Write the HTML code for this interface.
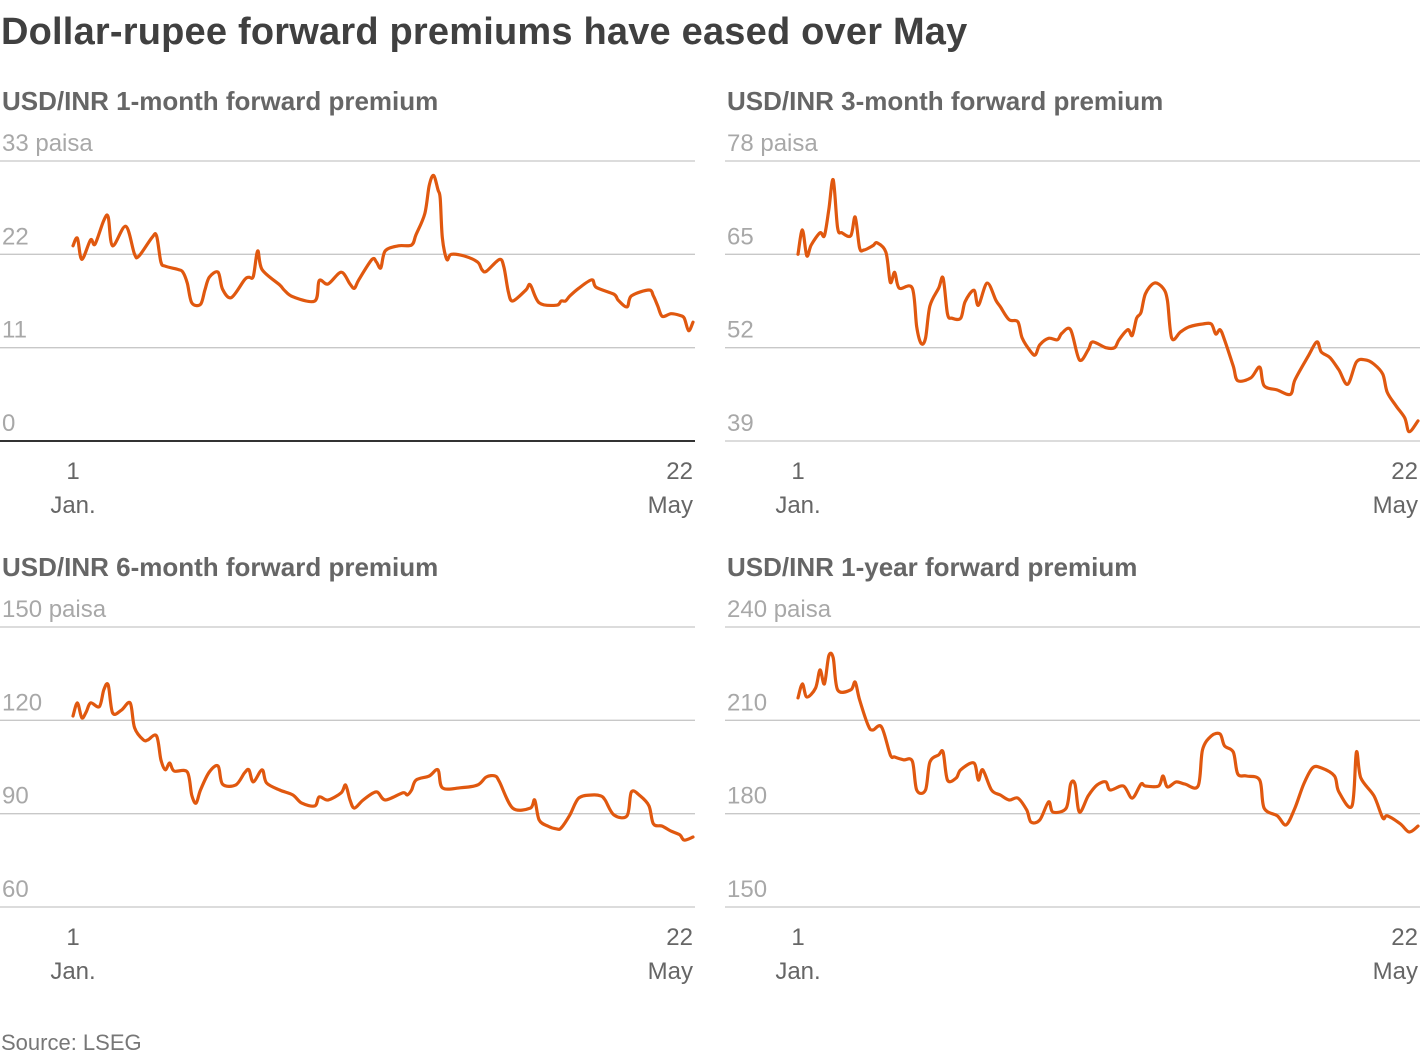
<!DOCTYPE html>
<html><head><meta charset="utf-8">
<style>
body{margin:0;background:#fff;width:1420px;height:1056px;overflow:hidden;font-family:"Liberation Sans","DejaVu Sans",sans-serif;}
svg text{font-family:"Liberation Sans","DejaVu Sans",sans-serif;}
</style></head>
<body>
<svg id="root" width="1420" height="1056" viewBox="0 0 1420 1056">
<text x="1" y="44" font-size="38" font-weight="bold" fill="#404040" letter-spacing="0.2">Dollar-rupee forward premiums have eased over May</text>
<text x="1" y="1050" font-size="22" fill="#777">Source: LSEG</text>
</svg>
<script>
// Chart 1: 1-month (paisa)
const days1=[0,1,2,4,5,7,8,9,12,14,15,18,19,20,21,24,25,26,27,29,30,31,33,34,36,39,40,41,42,43,47,48,50,55,56,58,61,63,64,65,68,69,70,71,74,77,78,80,81,82,83,83.5,84,85,86,89,92,93,94,97,98,99,100,103,104,106,110,111,112,113,115,118,119,123,124,126,127,131,132,133,134,136,138,139,140,141];
const vals1=[23.0,23.9,21.4,23.7,23.2,26.0,26.4,23.0,25.3,22.0,21.8,24.0,24.2,21.1,20.6,20.2,19.9,18.6,16.3,16.1,17.8,19.3,19.9,17.9,16.9,19.0,19.3,19.4,22.4,20.2,18.4,17.8,17.0,16.5,18.9,18.5,19.9,18.5,18.0,19.0,21.4,21.1,20.4,22.4,23.0,23.1,24.3,26.8,30.1,31.3,29.6,28.6,23.9,21.4,22.0,21.8,21.1,20.2,20.0,21.4,20.5,17.6,16.5,17.8,18.4,16.3,16.0,16.5,16.5,17.1,18.0,19.0,18.1,17.3,16.6,15.8,17.1,17.8,17.1,15.9,14.7,15.0,14.8,14.5,13.0,14.0];
// Chart 2: 3-month
const days2=[0,1,2,3,5,6,7,8,9,10,12,13,14,15,17,18,20,21,22,23,26,27,28,29,30,32,33,34,35,37,38,40,41,43,45,46,48,50,51,53,54,55,57,59,60,62,64,66,67,70,72,73,75,76,77,78,79,81,83,84,85,87,89,92,94,95,96,97,99,100,103,105,106,109,112,113,116,118,119,121,123,125,127,129,131,133,134,136,138,139,141];
const vals2=[65.0,68.4,64.8,66.3,68.0,67.6,71.2,75.4,68.7,68.0,67.6,70.2,65.9,65.6,66.2,66.6,65.3,61.1,62.5,60.3,60.3,54.9,52.6,53.3,57.8,60.3,61.7,56.7,56.1,56.1,58.4,60.0,57.9,61.0,58.6,57.7,55.9,55.6,53.3,51.4,51.0,52.4,53.3,53.1,54.0,54.5,50.3,51.7,52.8,52.0,52.0,53.1,54.5,53.7,56.1,56.9,59.5,61.0,60.3,58.6,53.3,54.2,54.9,55.3,55.3,53.9,54.5,53.1,49.4,47.4,47.8,49.3,46.7,46.1,45.5,47.5,50.8,52.8,51.4,50.6,48.9,46.9,50.0,50.3,49.7,48.3,45.8,43.9,42.2,40.3,41.8];
// Chart 3: 6-month
const days3=[0,1,2,3,4,6,7,8,9,11,13,14,16,17,19,20,21,22,23,26,27,28,29,31,33,34,37,39,40,41,43,44,47,50,52,55,56,58,61,62,63,64,66,69,71,75,76,77,78,81,83,84,88,92,94,96,97,100,104,105,106,108,110,111,113,115,118,120,121,123,126,127,129,131,132,134,136,138,139,141];
const vals3=[121.4,125.6,120.8,122.7,125.6,124.4,129.8,131.4,122.4,123.3,125.6,117.6,113.7,113.7,115.0,107.3,104.1,106.3,103.7,103.4,96.0,93.4,97.6,103.4,105.3,99.5,99.2,103.1,104.1,100.2,104.1,99.9,97.6,96.0,93.4,92.5,95.4,94.4,96.7,99.2,94.4,91.8,94.4,97.0,94.4,96.7,96.0,97.6,100.8,102.1,104.1,98.3,98.3,99.2,101.8,102.1,100.2,91.8,91.8,94.4,88.0,86.0,85.1,85.4,89.6,95.0,96.0,95.7,94.4,89.6,89.3,97.0,95.7,92.5,86.7,86.0,84.4,83.2,81.5,82.5];
// Chart 4: 1-year
const days4=[0,1,2,4,5,6,7,8,9,12,13,14,16,17,19,21,22,24,26,27,29,30,32,33,34,36,37,40,41,42,44,46,48,50,52,53,55,57,58,61,62,63,64,66,68,70,71,74,76,78,79,82,83,84,86,88,91,92,94,96,97,99,100,102,105,106,109,111,113,115,117,119,122,123,126,127,128,131,133,134,137,139,141];
const vals4=[217.2,221.7,217.5,220.4,226.2,221.7,230.7,230.1,219.8,219.8,222.3,216.6,208.2,206.9,207.9,198.9,198.2,197.3,196.9,187.6,187.6,196.6,198.9,199.8,190.8,191.5,194.1,196.3,190.8,194.1,187.6,186.0,184.4,185.0,181.2,177.3,178.0,183.8,180.5,181.8,189.5,189.5,180.5,185.7,189.2,190.2,187.6,188.9,185.0,189.5,188.9,188.9,192.1,188.6,190.2,189.5,188.9,200.5,205.0,205.6,201.8,199.8,192.8,192.1,190.8,181.8,179.3,176.4,181.8,189.5,194.7,194.7,192.1,187.0,182.5,199.8,191.5,185.7,178.6,179.3,176.7,174.1,176.0];

const titles=["USD/INR 1-month forward premium","USD/INR 3-month forward premium","USD/INR 6-month forward premium","USD/INR 1-year forward premium"];
const ticks1=[0,11,22,33],ticks2=[39,52,65,78],ticks3=[60,90,120,150],ticks4=[150,180,210,240];
const xTickTop=["1","22"],xTickBot=["Jan.","May"];
const totalDays=141;

const NS="http://www.w3.org/2000/svg";
const root=document.getElementById('root');
function mk(tag,attrs,parent){const e=document.createElementNS(NS,tag);for(const k in attrs)e.setAttribute(k,attrs[k]);(parent||root).appendChild(e);return e;}
function smooth(pts){let d="M"+pts[0][0].toFixed(1)+","+pts[0][1].toFixed(1);
 for(let i=0;i<pts.length-1;i++){const p0=pts[Math.max(0,i-1)],p1=pts[i],p2=pts[i+1],p3=pts[Math.min(pts.length-1,i+2)];
 const t=0.16;const c1=[p1[0]+(p2[0]-p0[0])*t,p1[1]+(p2[1]-p0[1])*t],c2=[p2[0]-(p3[0]-p1[0])*t,p2[1]-(p3[1]-p1[1])*t];
 d+=" C"+c1[0].toFixed(1)+","+c1[1].toFixed(1)+" "+c2[0].toFixed(1)+","+c2[1].toFixed(1)+" "+p2[0].toFixed(1)+","+p2[1].toFixed(1);}
 return d;}

const panels=[
 {ox:0,oy:0,days:days1,vals:vals1,ticks:ticks1,zero:true},
 {ox:725,oy:0,days:days2,vals:vals2,ticks:ticks2,zero:false},
 {ox:0,oy:466,days:days3,vals:vals3,ticks:ticks3,zero:false},
 {ox:725,oy:466,days:days4,vals:vals4,ticks:ticks4,zero:false}];
panels.forEach((p,i)=>{
 const g=mk('g',{transform:`translate(${p.ox},${p.oy})`});
 
 
 const x0=73,x1=693,left=2,yTop=161,yBot=441;
 const tmin=p.ticks[0],tmax=p.ticks[p.ticks.length-1];
 const xs=d=>x0+(x1-x0)*d/totalDays;
 const ys=v=>yBot-(yBot-yTop)*(v-tmin)/(tmax-tmin);
 const t=mk('text',{x:left,y:110,'font-size':26,'font-weight':'bold',fill:'#666'},g);t.textContent=titles[i];
 
 
 p.ticks.forEach((tv,j)=>{
  const y=ys(tv);
  const isBase=j===0;
  const ln=mk('line',{x1:0,x2:x1+2,y1:y,y2:y,stroke:(isBase&&p.zero)?'#333':'#c8c8c8','stroke-width':(isBase&&p.zero)?2:1.3},g);
  
  
  const tx=mk('text',{x:left,y:y-10,'font-size':24,fill:'#a8a8a8'},g);
  tx.textContent=tv+(j===p.ticks.length-1?" paisa":"");
  
  
 });
 [[x0,'middle',0],[x1,'end',1]].forEach(([x,anc,k])=>{
  const a=mk('text',{x:x,y:479,'font-size':24,fill:'#666','text-anchor':anc},g);a.textContent=xTickTop[k];
  
  
  const b=mk('text',{x:x,y:513,'font-size':24,fill:'#666','text-anchor':anc},g);b.textContent=xTickBot[k];
  
  
 });
 const pts=p.days.map((d,k)=>[xs(d),ys(p.vals[k])]);
 const path=mk('path',{d:smooth(pts),fill:'none',stroke:'#e0580f','stroke-width':3.2,'stroke-linejoin':'round','stroke-linecap':'round'},g);
 
 
});
</script>
</body></html>
